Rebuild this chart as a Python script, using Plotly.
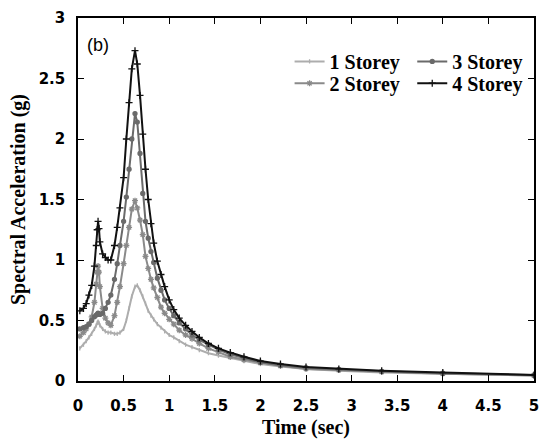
import plotly.graph_objects as go

# period (sec) at which each spectral ordinate was read
period = [0.02, 0.06, 0.09, 0.12, 0.15, 0.18, 0.2, 0.21, 0.22, 0.23, 0.24, 0.27,
          0.3, 0.33, 0.36, 0.4, 0.43, 0.46, 0.5, 0.53, 0.56, 0.59, 0.625, 0.65,
          0.68, 0.71, 0.74, 0.77, 0.8, 0.83, 0.87, 0.91, 0.95, 1.0, 1.05, 1.11,
          1.18, 1.25, 1.33, 1.43, 1.54, 1.67, 1.82, 2.0, 2.22, 2.5, 2.86, 3.33,
          4.0, 5.0]

sa_1storey = [0.27, 0.30, 0.33, 0.36, 0.39, 0.43, 0.46, 0.48, 0.49, 0.48, 0.46, 0.43,
              0.41, 0.40, 0.40, 0.39, 0.39, 0.40, 0.43, 0.50, 0.60, 0.70, 0.78, 0.79,
              0.75, 0.70, 0.64, 0.58, 0.54, 0.51, 0.47, 0.44, 0.41, 0.38, 0.36, 0.33,
              0.30, 0.28, 0.255, 0.23, 0.21, 0.19, 0.165, 0.14, 0.12, 0.10, 0.085, 0.07,
              0.06, 0.045]

sa_2storey = [0.37, 0.40, 0.43, 0.47, 0.53, 0.65, 0.80, 0.90, 0.95, 0.90, 0.78, 0.60,
              0.52, 0.48, 0.46, 0.54, 0.65, 0.78, 0.97, 1.12, 1.27, 1.42, 1.49, 1.43,
              1.33, 1.21, 1.03, 0.93, 0.84, 0.77, 0.69, 0.61, 0.56, 0.51, 0.47, 0.42,
              0.38, 0.35, 0.31, 0.27, 0.24, 0.20, 0.175, 0.15, 0.125, 0.10, 0.09, 0.075,
              0.06, 0.045]

sa_3storey = [0.43, 0.44, 0.45, 0.47, 0.50, 0.53, 0.545, 0.55, 0.56, 0.555, 0.55, 0.56,
              0.60, 0.65, 0.71, 0.84, 0.97, 1.12, 1.32, 1.52, 1.75, 2.00, 2.21, 2.14,
              1.88, 1.55, 1.32, 1.18, 1.07, 0.98, 0.85, 0.75, 0.67, 0.60, 0.54, 0.48,
              0.43, 0.38, 0.34, 0.30, 0.26, 0.22, 0.19, 0.155, 0.13, 0.11, 0.095, 0.08,
              0.065, 0.05]

sa_4storey = [0.58, 0.60, 0.64, 0.71, 0.79, 0.95, 1.12, 1.25, 1.32, 1.26, 1.15, 1.05,
              1.02, 1.00, 1.00, 1.12, 1.27, 1.43, 1.68, 2.00, 2.30, 2.58, 2.73, 2.62,
              2.36, 2.04, 1.75, 1.50, 1.30, 1.14, 0.99, 0.88, 0.78, 0.67, 0.59, 0.52,
              0.46, 0.41, 0.36, 0.31, 0.27, 0.235, 0.20, 0.165, 0.14, 0.115, 0.10, 0.085,
              0.07, 0.05]

series = [
    # name, values, colour, marker symbol, marker size
    ("1 Storey", sa_1storey, "#adadad", "line-ns-open", 3),
    ("2 Storey", sa_2storey, "#8a8a8a", "asterisk-open", 5),
    ("3 Storey", sa_3storey, "#6a6a6a", "circle", 4),
    ("4 Storey", sa_4storey, "#111111", "cross-thin-open", 5),
]
# one legend box per entry so the 2x2 block can be placed like the original
legend_ids = ["legend2", "legend3", "legend4", "legend5"]

fig = go.Figure()
for (name, vals, colour, symbol, size), leg in zip(series, legend_ids):
    fig.add_trace(go.Scatter(
        x=period, y=vals, name=name, mode="lines+markers",
        line=dict(color=colour, width=2),
        marker=dict(symbol=symbol, size=size, color=colour,
                    line=dict(color=colour, width=1.3)),
        legend=leg,
    ))

axis_style = dict(
    showline=True, linecolor="black", linewidth=1.5, mirror="ticks",
    ticks="inside", ticklen=6, tickwidth=1.2, tickcolor="black",
    showgrid=False, zeroline=False,
    tickfont=dict(family="DejaVu Sans", size=15, color="black", weight="bold"),
)
title_font = dict(family="Liberation Serif", size=20, color="black", weight=700)
legend_font = dict(family="Liberation Serif", size=20, color="black", weight=700)

fig.update_xaxes(range=[0, 5], dtick=0.5, ticklabelstandoff=10,
                 title=dict(text="Time (sec)", font=title_font, standoff=6),
                 **axis_style)
fig.update_yaxes(range=[0, 3], dtick=0.5, ticklabelstandoff=8,
                 title=dict(text="Spectral Acceleration (g)", font=title_font, standoff=8),
                 **axis_style)

fig.add_annotation(text="(b)", xref="paper", yref="paper", x=0.015, y=0.926,
                   xanchor="left", yanchor="middle", showarrow=False,
                   font=dict(family="Liberation Sans", size=18, color="black"))

leg_common = dict(xanchor="left", yanchor="top", bgcolor="rgba(0,0,0,0)",
                  font=legend_font, tracegroupgap=0)
fig.update_layout(
    width=545, height=441,
    margin=dict(l=78, r=6, t=18, b=58),
    plot_bgcolor="white", paper_bgcolor="white",
    legend2=dict(x=0.464, y=0.934, **leg_common),
    legend3=dict(x=0.464, y=0.874, **leg_common),
    legend4=dict(x=0.733, y=0.934, **leg_common),
    legend5=dict(x=0.733, y=0.874, **leg_common),
)

# the page's default body margin would push the figure off the window
fig.write_html("out.html", config={"displayModeBar": False},
               post_script="document.body.style.margin='0';")
